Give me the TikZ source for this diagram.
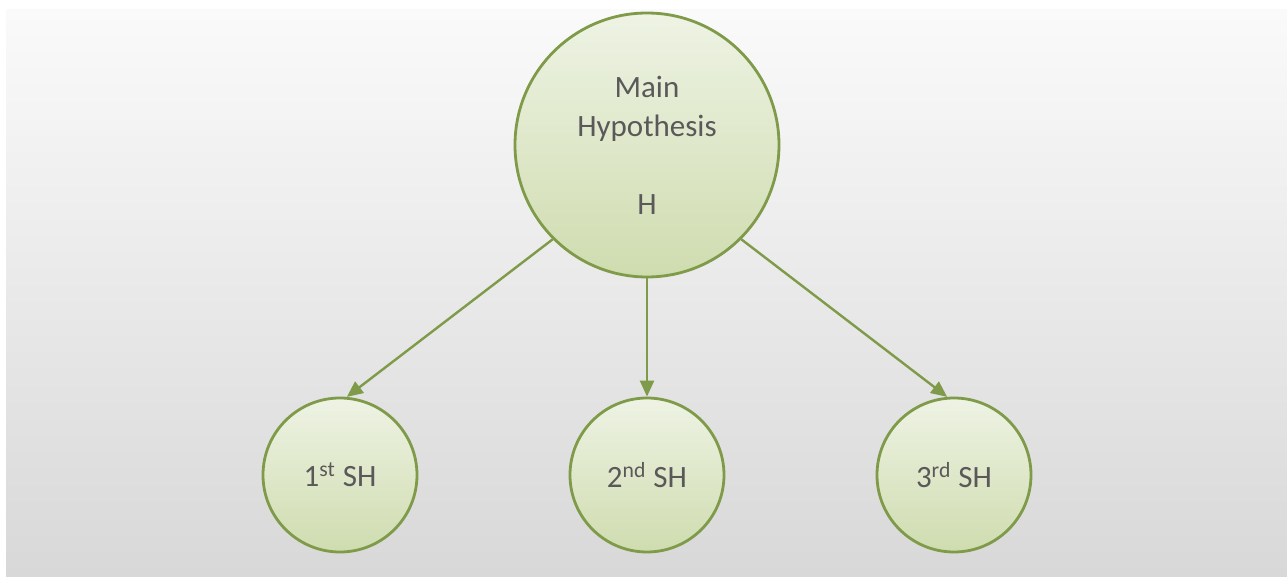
\documentclass[tikz,border=0pt]{standalone}
\usepackage{fontspec}
\setmainfont{Carlito}
\usetikzlibrary{arrows.meta}
\usetikzlibrary{positioning}
\definecolor{leafline}{HTML}{7F9A48}
\definecolor{leaftop}{HTML}{EEF3E4}
\definecolor{leafbot}{HTML}{CFDCAF}
\definecolor{textgray}{HTML}{595959}
\definecolor{bgtop}{HTML}{FAFAFA}
\definecolor{bgbot}{HTML}{D8D8D8}

\begin{document}
\begin{tikzpicture}
  [x=0.5pt,y=-0.5pt,
  hypo/.style={circle,draw=leafline,line width=1.4pt,top color=leaftop,bottom color=leafbot,inner sep=0pt,text=textgray,align=center,font=\fontsize{15.5}{19.5}\selectfont},
  bighypo/.style={hypo,minimum size=132pt},
  subhypo/.style={hypo,minimum size=77pt},
  link/.style={-{Triangle[length=8pt,width=7pt]},leafline,line width=1.2pt}]
  \useasboundingbox (0,0) rectangle (1287,577);
  \fill [white] (0,0) rectangle (1287,577);
  \fill [top color=bgtop,bottom color=bgbot] (6,10) rectangle (1287,577);

  \node[bighypo] (main) at (647,145) {Main\\Hypothesis\\ \\H};

  \node[subhypo] (sh1) at (340,475) {1\textsuperscript{st} SH};
  \node[subhypo] (sh2) at (647,475) {2\textsuperscript{nd} SH};
  \node[subhypo] (sh3) at (954,475) {3\textsuperscript{rd} SH};

  \draw [link] (main.225) -- (sh1.85);
  \draw [link] (main.south) -- (sh2.north);
  \draw [link] (main.-45) -- (sh3.95);
\end{tikzpicture}
\end{document}
